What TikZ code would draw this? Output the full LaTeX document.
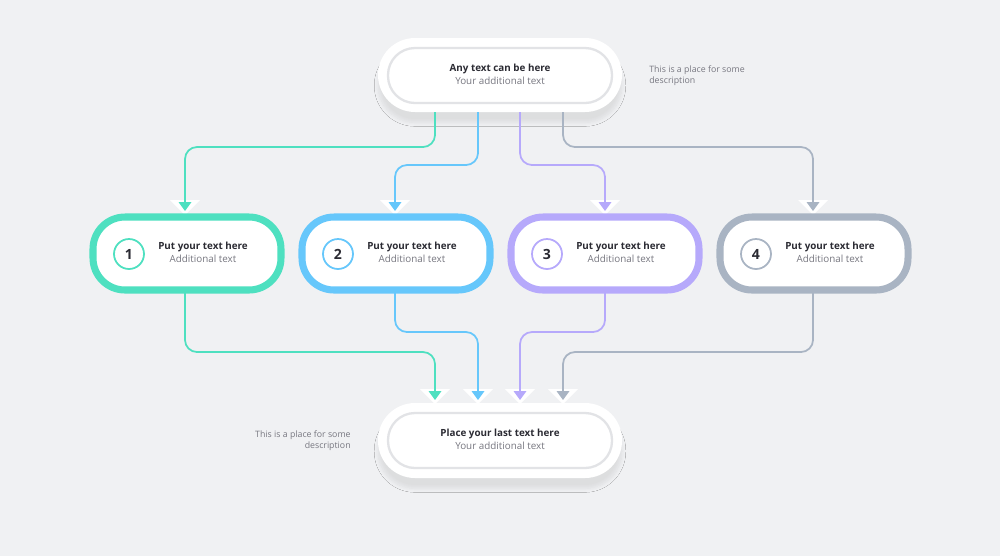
\documentclass[tikz,border=0pt]{standalone}
\usepackage{fontspec}
\setmainfont{Open Sans}
\usetikzlibrary{arrows.meta,shadows.blur}
\definecolor{bg}{HTML}{F0F1F3}
\definecolor{cA}{HTML}{4EE0C0}
\definecolor{cB}{HTML}{66C7FB}
\definecolor{cC}{HTML}{B6A9FB}
\definecolor{cD}{HTML}{A9B4C3}
\definecolor{txt}{HTML}{2B2B33}
\definecolor{sub}{HTML}{777780}
\definecolor{inl}{HTML}{E2E3E6}
\tikzset{
 outerbox/.style={fill=white,rounded corners=37*0.02cm,blur shadow={shadow blur steps=8,shadow xshift=0pt,shadow yshift=-6pt,shadow opacity=8}},
 innerbox/.style={draw=inl,line width=1.3pt,fill=white,rounded corners=27*0.02cm},
 stepbox/.style={line width=4pt,fill=white,rounded corners=32*0.02cm},
 numc/.style={circle,fill=white,line width=1pt,minimum size=30*0.02cm,inner sep=0pt,font=\fontsize{8}{9}\selectfont\bfseries,text=txt},
 ttl/.style={font=\fontsize{5.6}{6.5}\selectfont\bfseries,text=txt,inner sep=0pt},
 st/.style={font=\fontsize{5.6}{6.5}\selectfont,text=sub,inner sep=0pt},
 side/.style={font=\fontsize{5}{6.5}\selectfont,text=sub,inner sep=0pt},
 con/.style={line width=1pt,rounded corners=12*0.02cm,-{Triangle[length=5pt,width=7pt]}},
}
\begin{document}
\begin{tikzpicture}[x=0.02cm,y=-0.02cm]
\fill[bg] (0,0) rectangle (1000,556);
\useasboundingbox (0,0) rectangle (1000,556);
% top box
\path[outerbox] (378,38) rectangle (622,112);
\path[innerbox] (388,48) rectangle (612,103);
\node[ttl] (t1) at (500,69) {Any text can be here};
\node[st] (t2) at (500,81) {Your additional text};
\node[side,anchor=west,align=left] (s1) at (649,75.5) {This is a place for some\\description};
% bottom box
\path[outerbox] (378,403) rectangle (622,478);
\path[innerbox] (388,413) rectangle (612,468);
\node[ttl] (b1) at (500,434) {Place your last text here};
\node[st] (b2) at (500,446) {Your additional text};
\node[side,anchor=east,align=right] (s2) at (351,440.5) {This is a place for some\\description};
% coordinates
\foreach \n/\x in {a/435,b/478,c/520,d/563}{
 \coordinate (top\n) at (\x,112);
 \coordinate (bot\n) at (\x,400);}
\foreach \n/\x in {a/185,b/395,c/605,d/813}{
 \coordinate (in\n) at (\x,211);
 \coordinate (out\n) at (\x,290);}
% white arrow backgrounds
\foreach \x/\y in {185/200,395/200,605/200,813/200,435/389,478/389,520/389,563/389}
 \fill[white] (\x-15,\y) -- (\x+15,\y) -- (\x,\y+15) -- cycle;
% connectors top
\draw[con,cA] (topa) -- (435,147) -- (185,147) -- (ina);
\draw[con,cB] (topb) -- (478,165) -- (395,165) -- (inb);
\draw[con,cC] (topc) -- (520,165) -- (605,165) -- (inc);
\draw[con,cD] (topd) -- (563,147) -- (813,147) -- (ind);
% connectors bottom
\draw[con,cA] (outa) -- (185,352) -- (435,352) -- (bota);
\draw[con,cB] (outb) -- (395,332) -- (478,332) -- (botb);
\draw[con,cC] (outc) -- (605,332) -- (520,332) -- (botc);
\draw[con,cD] (outd) -- (813,352) -- (563,352) -- (botd);
% steps
\foreach \i/\x/\c in {1/93/cA,2/302/cB,3/511/cC,4/720/cD}{
 \path[stepbox,draw=\c] (\x,217) rectangle (\x+188,290);
 \node[numc,draw=\c] (n\i) at (\x+36,254) {\i};
 \node[ttl] (p\i) at (\x+110,247) {Put your text here};
 \node[st] (q\i) at (\x+110,259) {Additional text};
}
\end{tikzpicture}
\end{document}
